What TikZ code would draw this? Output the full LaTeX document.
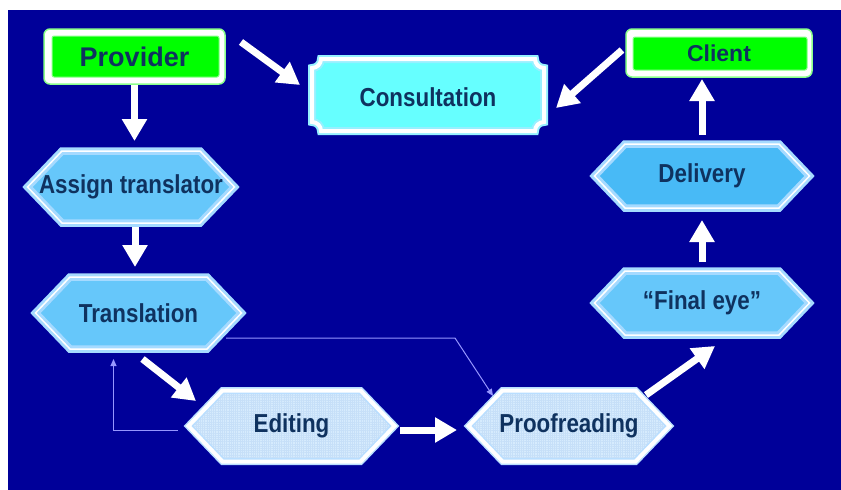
\documentclass[tikz,border=0pt]{standalone}
\usepackage{fontspec}
\newfontfamily\lblcond{Liberation Sans}[FakeStretch=0.86]
\newfontfamily\lblnorm{Liberation Sans}
\usetikzlibrary{arrows.meta,calc,patterns.meta}

\definecolor{bg}{RGB}{0,0,153}
\definecolor{txt}{RGB}{15,50,95}
\definecolor{hexfill}{RGB}{102,199,250}
\definecolor{hexedge}{RGB}{165,218,255}
\definecolor{delfill}{RGB}{72,186,246}
\definecolor{palefill}{RGB}{214,235,253}
\definecolor{palegrid}{RGB}{198,223,248}
\definecolor{paleedge}{RGB}{185,222,255}
\definecolor{cyanfill}{RGB}{102,255,255}
\definecolor{cyanedge}{RGB}{150,240,255}
\definecolor{grn}{RGB}{0,255,0}
\definecolor{grnedge}{RGB}{140,255,140}
\definecolor{thinc}{RGB}{150,150,255}

\tikzset{
  lbl/.style={font=\lblcond\bfseries\fontsize{26}{28}\selectfont, text=txt, inner sep=0pt, outer sep=0pt},
  lblP/.style={font=\lblnorm\bfseries\fontsize{27}{29}\selectfont, text=txt, inner sep=0pt, outer sep=0pt},
  lblC/.style={font=\lblnorm\bfseries\fontsize{23}{25}\selectfont, text=txt, inner sep=0pt, outer sep=0pt},
  hexA/.style={fill=hexfill, draw=hexedge, line width=3pt, double=white, double distance=1.5pt, line join=miter},
  hexD/.style={fill=delfill, draw=hexedge, line width=3pt, double=white, double distance=1.5pt, line join=miter},
  hexP/.style={preaction={fill=palefill}, pattern={Hatch[angle=0,distance=2.2pt,line width=0.3pt]}, pattern color=palegrid,
               draw=paleedge, line width=1.5pt, double=white, double distance=4pt, line join=miter},
  plaq/.style={fill=cyanfill, draw=cyanedge, line width=2pt, double=white, double distance=4pt},
  gouter/.style={fill=white, draw=grnedge, line width=1.5pt, rounded corners=6pt},
  ginner/.style={fill=grn, draw=grnedge, line width=1pt, rounded corners=2pt},
  fat/.style={draw=white, line width=7pt, -{Triangle[width=24pt,length=22pt]}},
  thinarrow/.style={draw=thinc, line width=1pt, -{Triangle[width=6pt,length=7pt]}}
}

% name, style, cx, cy, w, h, text
\newcommand\hexnode[7]{%
  \path[#2] ({#3-#5/2+5.5},#4) -- ({#3-#5/2+#6/2},{#4-#6/2+4}) -- ({#3+#5/2-#6/2},{#4-#6/2+4})
     -- ({#3+#5/2-5.5},#4) -- ({#3+#5/2-#6/2},{#4+#6/2-4}) -- ({#3-#5/2+#6/2},{#4+#6/2-4}) -- cycle;
  \node[lbl, minimum width=#5pt, minimum height=#6pt] (#1) at (#3,#4) {#7};
}

\begin{document}
\begin{tikzpicture}[x=1pt, y=-1pt]
\useasboundingbox (0,0) rectangle (841,490);
\fill[white] (0,0) rectangle (841,490);
\fill[bg] (8,10) rectangle (841,490);

% Provider
\path[gouter] (44,29) rectangle (225,84);
\path[ginner] (52,36) rectangle (219,77);
\node[lblP, minimum width=183pt, minimum height=57pt] (prov) at (134.5,56.5) {Provider};

% Client
\path[gouter] (626,29) rectangle (812,77);
\path[ginner] (633,37) rectangle (807,70);
\node[lblC, minimum width=188pt, minimum height=50pt] (cli) at (719,53) {Client};

% Consultation
\path[plaq] (321,59) -- (535,59) .. controls (535,64) and (539,68) .. (544,68) -- (544,122)
  .. controls (539,122) and (535,126) .. (535,131) -- (321,131)
  .. controls (321,126) and (317,122) .. (312,122) -- (312,68)
  .. controls (317,68) and (321,64) .. (321,59) -- cycle;
\node[lbl, minimum width=240pt, minimum height=80pt] (cons) at (428,97) {Consultation};

% Hexagons
\hexnode{assign}{hexA}{131}{187}{218}{80}{Assign translator}
\hexnode{trans}{hexA}{138.5}{313}{217}{80}{Translation}
\hexnode{edit}{hexP}{291.5}{426}{217}{79}{Editing}
\hexnode{proof}{hexP}{569}{426}{212}{79}{Proofreading}
\hexnode{final}{hexA}{702}{303}{226}{72}{“Final eye”}
\hexnode{deliv}{hexD}{702}{176}{226}{72}{Delivery}

% Thick arrows
\draw[fat] (prov.south) -- ($(prov.south |- assign.north)+(0,-6)$);
\draw[fat] ($(prov.north east)+(15,14)$) -- ($(cons.west)+(-8,-12)$);
\draw[fat] ($(cli.west)+(-3,-3)$) -- ($(cons.east)+(8,11)$);
\draw[fat] ($(deliv.north)+(0,-5)$) -- ($(deliv.north |- cli.south)+(0,1)$);
\draw[fat] ($(final.north)+(0,-5)$) -- ($(deliv.south)+(0,8)$);
\draw[fat] ($(assign.south)+(4,0)$) -- ($(assign.south |- trans.north)+(4,-6)$);
\draw[fat] ($(trans.south)+(4,6)$) -- ($(edit.north west)+(13,14.5)$);
\draw[fat] ($(edit.east)+(0,4)$) -- ($(proof.west)+(-6,4)$);
\draw[fat] ($(proof.center)+(77,-31)$) -- ($(final.south)+(13,7)$);

% Thin connectors
\coordinate (tbend) at ($(trans.east)+(208,25)$);
\draw[thinarrow] ($(trans.east)+(-21,25)$) -- (tbend) -- ($(proof.center)+(-76,-30)$);
\draw[thinarrow] ($(edit.west)+(-5,4)$) -| ($(trans.south)+(-25,6)$);
\end{tikzpicture}
\end{document}
